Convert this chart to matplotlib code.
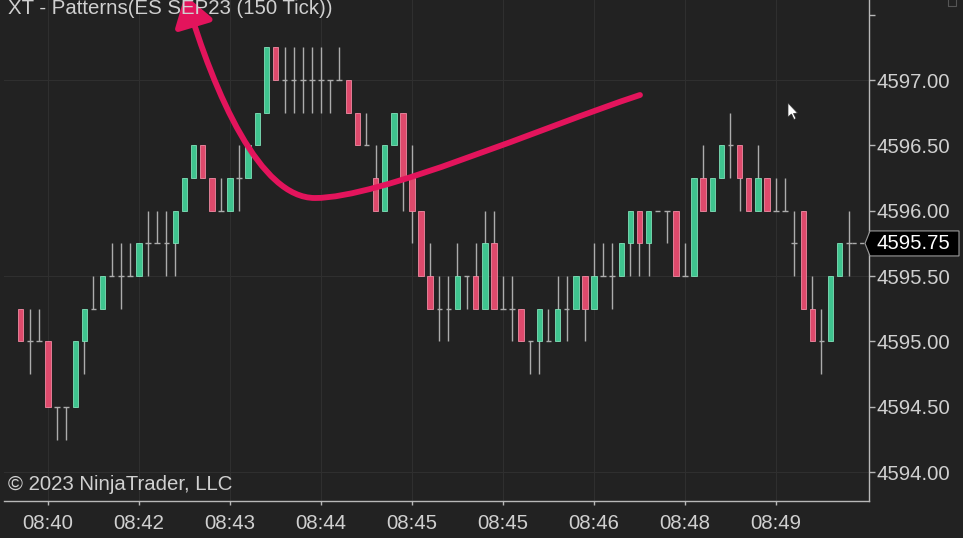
import matplotlib
matplotlib.use("Agg")
import matplotlib.pyplot as plt
from matplotlib.patches import FancyArrowPatch, Polygon, Rectangle
from matplotlib.path import Path
import numpy as np

plt.rcParams['font.family'] = ['Liberation Sans', 'DejaVu Sans']

# ES SEP23, 150 tick bars
opens = [4595.25, 4595.00, 4595.00, 4595.00, 4594.50, 4594.50, 4594.50, 4595.00, 4595.25, 4595.25,
         4595.50, 4595.50, 4595.50, 4595.50, 4595.75, 4595.75, 4595.75, 4595.75, 4596.00, 4596.25,
         4596.50, 4596.25, 4596.00, 4596.00, 4596.25, 4596.25, 4596.50, 4596.75, 4597.25, 4597.00,
         4597.00, 4597.00, 4597.00, 4597.00, 4597.00, 4597.00, 4597.00, 4596.75, 4596.50, 4596.25,
         4596.00, 4596.50, 4596.75, 4596.25, 4596.00, 4595.50, 4595.25, 4595.25, 4595.25, 4595.50,
         4595.50, 4595.25, 4595.75, 4595.25, 4595.25, 4595.25, 4595.00, 4595.00, 4595.00, 4595.00,
         4595.25, 4595.25, 4595.50, 4595.25, 4595.50, 4595.50, 4595.50, 4595.75, 4596.00, 4595.75,
         4596.00, 4596.00, 4596.00, 4595.50, 4595.50, 4596.25, 4596.00, 4596.25, 4596.50, 4596.50,
         4596.25, 4596.00, 4596.25, 4596.00, 4596.00, 4595.75, 4596.00, 4595.25, 4595.00, 4595.00,
         4595.50, 4595.75]
highs = [4595.25, 4595.25, 4595.25, 4595.00, 4594.50, 4594.50, 4595.00, 4595.25, 4595.50, 4595.50,
         4595.75, 4595.75, 4595.75, 4595.75, 4596.00, 4596.00, 4596.00, 4596.00, 4596.25, 4596.50,
         4596.50, 4596.25, 4596.25, 4596.25, 4596.50, 4596.50, 4596.75, 4597.25, 4597.25, 4597.25,
         4597.25, 4597.25, 4597.25, 4597.25, 4597.00, 4597.25, 4597.00, 4596.75, 4596.75, 4596.50,
         4596.50, 4596.75, 4596.75, 4596.50, 4596.00, 4595.75, 4595.50, 4595.50, 4595.75, 4595.50,
         4595.75, 4596.00, 4596.00, 4595.50, 4595.50, 4595.25, 4595.00, 4595.25, 4595.25, 4595.50,
         4595.50, 4595.50, 4595.50, 4595.75, 4595.75, 4595.75, 4595.75, 4596.00, 4596.00, 4596.00,
         4596.00, 4596.00, 4596.00, 4595.75, 4596.25, 4596.50, 4596.25, 4596.50, 4596.75, 4596.50,
         4596.25, 4596.50, 4596.25, 4596.25, 4596.25, 4596.00, 4596.00, 4595.50, 4595.25, 4595.50,
         4595.75, 4596.00]
lows = [4595.00, 4594.75, 4595.00, 4594.50, 4594.25, 4594.25, 4594.50, 4594.75, 4595.25, 4595.25,
        4595.50, 4595.25, 4595.50, 4595.50, 4595.50, 4595.75, 4595.50, 4595.50, 4596.00, 4596.25,
        4596.25, 4596.00, 4596.00, 4596.00, 4596.00, 4596.25, 4596.50, 4596.75, 4597.00, 4596.75,
        4596.75, 4596.75, 4596.75, 4596.75, 4596.75, 4597.00, 4596.75, 4596.50, 4596.50, 4596.00,
        4596.00, 4596.50, 4596.00, 4595.75, 4595.50, 4595.25, 4595.00, 4595.00, 4595.25, 4595.25,
        4595.25, 4595.25, 4595.25, 4595.25, 4595.00, 4595.00, 4594.75, 4594.75, 4595.00, 4595.00,
        4595.00, 4595.25, 4595.00, 4595.25, 4595.50, 4595.25, 4595.50, 4595.50, 4595.50, 4595.50,
        4596.00, 4595.75, 4595.50, 4595.50, 4595.50, 4596.00, 4596.00, 4596.25, 4596.25, 4596.00,
        4596.00, 4596.00, 4596.00, 4596.00, 4596.00, 4595.50, 4595.25, 4595.00, 4594.75, 4595.00,
        4595.50, 4595.50]
closes = [4595.00, 4595.00, 4595.00, 4594.50, 4594.50, 4594.50, 4595.00, 4595.25, 4595.25, 4595.50,
          4595.50, 4595.50, 4595.50, 4595.75, 4595.75, 4595.75, 4595.75, 4596.00, 4596.25, 4596.50,
          4596.25, 4596.00, 4596.00, 4596.25, 4596.25, 4596.50, 4596.75, 4597.25, 4597.00, 4597.00,
          4597.00, 4597.00, 4597.00, 4597.00, 4597.00, 4597.00, 4596.75, 4596.50, 4596.50, 4596.00,
          4596.50, 4596.75, 4596.25, 4596.00, 4595.50, 4595.25, 4595.25, 4595.25, 4595.50, 4595.50,
          4595.25, 4595.75, 4595.25, 4595.25, 4595.25, 4595.00, 4595.00, 4595.25, 4595.00, 4595.25,
          4595.25, 4595.50, 4595.25, 4595.50, 4595.50, 4595.50, 4595.75, 4596.00, 4595.75, 4596.00,
          4596.00, 4596.00, 4595.50, 4595.50, 4596.25, 4596.00, 4596.25, 4596.50, 4596.50, 4596.25,
          4596.00, 4596.25, 4596.00, 4596.00, 4596.00, 4595.75, 4595.25, 4595.00, 4595.00, 4595.50,
          4595.75, 4595.75]

time_labels = ['08:40', '08:42', '08:43', '08:44', '08:45', '08:45', '08:46', '08:48', '08:49']
label_bars = [3, 13, 23, 33, 43, 53, 63, 73, 83]
price_ticks = [4594.0, 4594.5, 4595.0, 4595.5, 4596.0, 4596.5, 4597.0, 4597.5]
grid_prices = [4594.0, 4595.5, 4597.0]
title = 'XT - Patterns(ES SEP23 (150 Tick))'
copyright_txt = '\u00a9 2023 NinjaTrader, LLC'

bg = '#222222'
txt = '#d0d0d0'
green, green_edge = '#3fc48f', '#7fe0b8'
red, red_edge = '#de4a6c', '#f08aa2'
wick = '#acacac'
pink = '#e3145c'
fs = 14.7

W, H = 963, 538
fig = plt.figure(figsize=(W / 100, H / 100), dpi=100, facecolor=bg)
# axes box in pixels: x 4..869, y 0..501 (from top)
ax = fig.add_axes([4 / W, (H - 501) / H, 865 / W, 501 / H], facecolor=bg)

o = np.array(opens); h = np.array(highs); l = np.array(lows); c = np.array(closes)
x = np.arange(len(o))
up = c > o
dn = c < o
flat = c == o
bw = 0.6

for v in label_bars:
    ax.axvline(v, color='#2f2f2f', lw=0.8, zorder=0)
for p in grid_prices:
    ax.axhline(p, color='#2f2f2f', lw=0.8, zorder=0)

ax.vlines(x, l, h, color=wick, lw=1.0, zorder=2)
ax.hlines(o[flat], x[flat] - bw / 2, x[flat] + bw / 2, color=wick, lw=1.0, zorder=2)
ax.bar(x[up], c[up] - o[up], bottom=o[up], width=bw, color=green, edgecolor=green_edge, lw=0.6, zorder=3)
ax.bar(x[dn], o[dn] - c[dn], bottom=c[dn], width=bw, color=red, edgecolor=red_edge, lw=0.6, zorder=3)

xmax = 93.22
ax.hlines(c[-1], x[-1] + bw / 2, xmax, color=wick, lw=1.0, linestyles=(0, (3, 2.5)), zorder=2)

ax.set_xlim(-1.835, xmax)
ax.set_ylim(4593.78, 4597.612)

for s in ['top', 'left']:
    ax.spines[s].set_visible(False)
for s in ['right', 'bottom']:
    ax.spines[s].set_color('#b8b8b8')
    ax.spines[s].set_linewidth(1.0)

ax.yaxis.tick_right()
ax.set_yticks(price_ticks)
ax.set_yticklabels(['%.2f' % p if p < 4597.5 else '' for p in price_ticks])
ax.tick_params(axis='y', colors='#b8b8b8', labelcolor=txt, length=4.5, width=1, pad=1, labelsize=fs)
ax.set_xticks(label_bars)
ax.set_xticklabels(time_labels)
ax.tick_params(axis='x', colors='#b8b8b8', labelcolor=txt, length=3, width=1, pad=6.5, labelsize=fs)

fig.text(8 / W, 1 - 14 / H, title, color=txt, fontsize=fs, va='baseline', ha='left')
fig.text(8 / W, 1 - 484 / H, copyright_txt, color=txt, fontsize=fs, va='center', ha='left')

# last price marker
fig.canvas.draw()
yd = ax.transData.transform((0, c[-1]))[1] / H
hh = 12.5 / H
marker = Polygon([(865 / W, yd), (870 / W, yd + hh), (959 / W, yd + hh), (959 / W, yd - hh), (870 / W, yd - hh)],
                 closed=True, transform=fig.transFigure, facecolor='black', edgecolor='#9a9a9a', lw=0.8)
fig.patches.append(marker)
fig.text(913 / W, yd, '%.2f' % c[-1], color='white', fontsize=fs, ha='center', va='center')

# small box top right
fig.patches.append(Rectangle((948 / W, 1 - 6 / H), 8 / W, 8 / H, transform=fig.transFigure,
                             facecolor='none', edgecolor='#555555', lw=0.8))

# hand drawn arrow
def fp(px, py):
    return (px / W, 1 - py / H)

verts = [fp(640, 95), fp(540, 128), fp(380, 198), fp(315, 198),
         fp(260, 198), fp(215, 95), fp(185, -5)]
codes = [Path.MOVETO, Path.CURVE4, Path.CURVE4, Path.CURVE4, Path.CURVE4, Path.CURVE4, Path.CURVE4]
arrow = FancyArrowPatch(path=Path(verts, codes), arrowstyle='-|>,head_length=1.3,head_width=0.85',
                        mutation_scale=14, color=pink, lw=4.2, capstyle='round', joinstyle='round',
                        transform=fig.transFigure)
fig.patches.append(arrow)

# mouse cursor
cur = [(788, 103), (788, 117), (791.5, 114), (794, 119.5), (796, 118.5), (793.5, 113.5), (797.5, 113)]
fig.patches.append(Polygon([fp(a, b) for a, b in cur], closed=True, transform=fig.transFigure,
                           facecolor='white', edgecolor='#333333', lw=0.5))

fig.savefig('out.png', dpi=100, facecolor=bg)
